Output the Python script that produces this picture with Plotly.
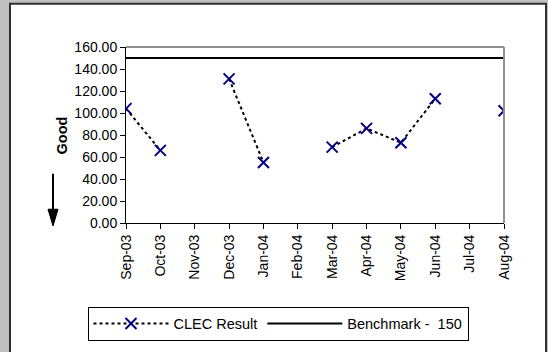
import plotly.graph_objects as go

months = ["Sep-03", "Oct-03", "Nov-03", "Dec-03", "Jan-04", "Feb-04",
          "Mar-04", "Apr-04", "May-04", "Jun-04", "Jul-04", "Aug-04"]
clec_result = [104, 66, None, 131, 55, None, 69, 86, 73, 113, None, 102]
benchmark = [150] * 12
y_ticks = [0, 20, 40, 60, 80, 100, 120, 140, 160]

W, H = 548, 352
L, R, T, B = 126, 44, 47, 126
PW, PH = W - L - R, H - T - B


def px(x):
    return (x - L) / PW


def py(y):
    return (H - B - y) / PH


FAM = "Liberation Sans, Arial, sans-serif"

fig = go.Figure()
fig.add_trace(go.Scatter(
    x=months, y=clec_result, name="CLEC Result", mode="lines+markers",
    connectgaps=False,
    line=dict(color="black", width=2, dash="3px,3px"),
    marker=dict(symbol="x-thin-open", size=11, color="#000080",
                line=dict(color="#000080", width=2)),
))
fig.add_trace(go.Scatter(
    x=months, y=benchmark, name="Benchmark -  150", mode="lines",
    line=dict(color="black", width=2),
))

tickfont = dict(family=FAM, size=14, color="black")

shapes = [
    dict(type="rect", xref="paper", yref="paper", layer="below",
         x0=px(10), x1=px(546), y0=py(3), y1=py(400),
         fillcolor="white", line=dict(color="#303030", width=2)),
    dict(type="line", xref="paper", yref="paper", x0=0, x1=1, y0=1, y1=1,
         line=dict(color="#909090", width=2)),
    dict(type="line", xref="paper", yref="paper", x0=1, x1=1, y0=0, y1=1,
         line=dict(color="#909090", width=2)),
    dict(type="line", xref="paper", yref="paper", x0=px(53), x1=px(53),
         y0=py(176), y1=py(214), line=dict(color="black", width=2)),
    dict(type="path", xref="paper", yref="paper",
         path=f"M {px(48)} {py(212)} L {px(58)} {py(212)} L {px(53)} {py(229)} Z",
         fillcolor="black", line=dict(color="black", width=1)),
]

fig.update_layout(
    width=W, height=H,
    margin=dict(l=L, r=R, t=T, b=B),
    paper_bgcolor="#C0C0C0",
    plot_bgcolor="white",
    font=dict(family=FAM, size=14, color="black"),
    shapes=shapes,
    showlegend=True,
    legend=dict(orientation="h", x=px(278), xanchor="center",
                y=py(311), yanchor="top",
                bordercolor="black", borderwidth=1, bgcolor="white",
                font=dict(family=FAM, size=14.5, color="black"),
                itemwidth=75, tracegroupgap=0),
    annotations=[dict(text="<b>Good</b>", xref="paper", yref="paper",
                      x=px(52), y=py(137), showarrow=False, textangle=-90,
                      font=dict(family=FAM, size=14.5, color="black"))],
    xaxis=dict(type="category", categoryorder="array", categoryarray=months,
               range=[0, 11], showline=True, linecolor="black", linewidth=1,
               ticks="outside", ticklen=5, tickcolor="black", tickangle=-90,
               showgrid=False, zeroline=False, tickfont=tickfont,
               tickmode="array", tickvals=months, ticktext=months),
    yaxis=dict(range=[0, 160], tickvals=y_ticks, tickformat=".2f",
               showline=True, linecolor="black", linewidth=1,
               ticks="outside", ticklen=5, tickcolor="black",
               showgrid=False, zeroline=False, tickfont=tickfont),
)

fig.write_html("out.html", config={"displayModeBar": False},
               post_script="document.body.style.margin='0px';")
